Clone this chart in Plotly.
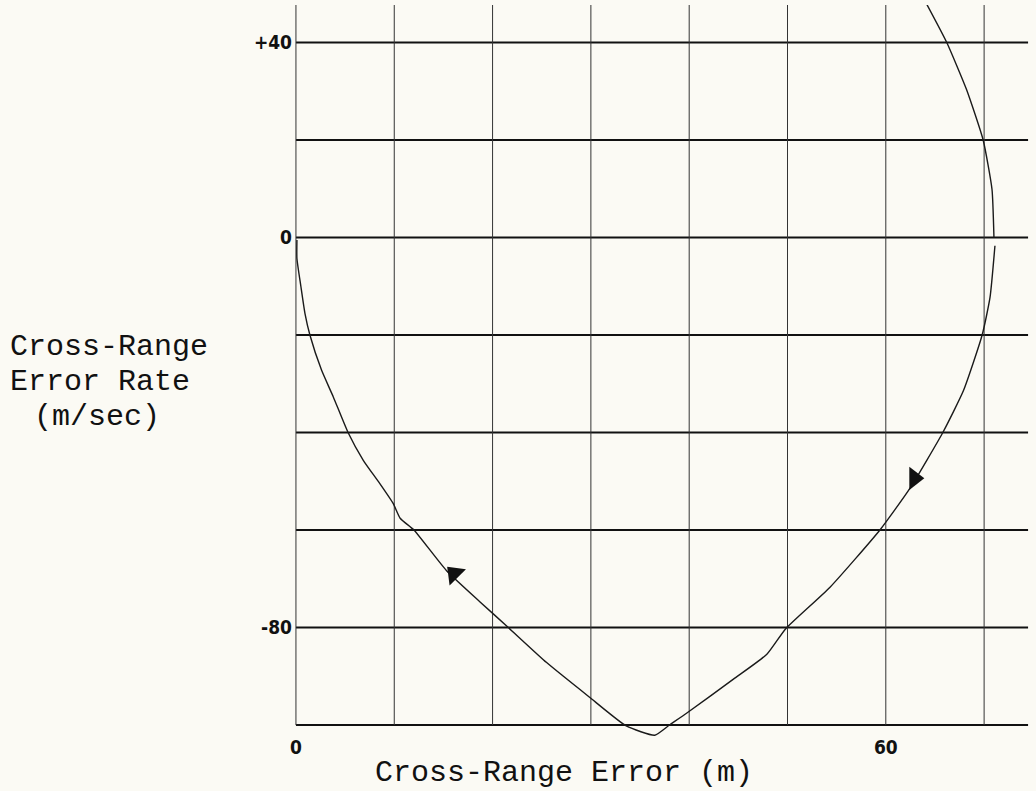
import plotly.graph_objects as go

# Phase-plane trajectory: cross-range error (m) vs. cross-range error rate (m/sec)
err_m = [64.1, 66.2, 68.2, 69.9, 70.8, 71.0, None,
         71.1, 70.6, 69.8, 67.9, 65.8, 62.5, 59.4, 54.3, 49.8, 47.9, 44.5,
         39.8, 38.0, 36.5, 33.6, 29.8, 25.5, 21.6, 18.7, 15.3, 12.0, 10.6,
         9.9, 8.5, 6.85, 5.3, 3.8, 2.6, 1.42, 0.92, 0.5, 0.1, 0.1]
rate_ms = [48.1, 40.0, 30.4, 20.0, 9.9, 0.0, None,
           -1.7, -12.3, -20.0, -31.4, -40.0, -51.3, -60.0, -71.8, -80.3, -85.5, -90.6,
           -97.5, -100.0, -102.1, -100.2, -94.2, -87.2, -80.0, -74.7, -68.3, -60.0, -57.6,
           -54.6, -50.4, -45.7, -40.0, -32.7, -27.2, -20.0, -15.6, -10.0, -4.3, -0.5]

# Direction-of-travel arrowheads along the trajectory
arrow_x = [62.9, 16.1]
arrow_y = [-49.4, -69.0]
arrow_angle = [90, -45]

# Grid and tick definitions
x_grid = [0, 10, 20, 30, 40, 50, 60, 70]
y_grid = [-100, -80, -60, -40, -20, 0, 20, 40]
x_tick_vals = [0, 60]
x_tick_text = ["0", "60"]
y_tick_vals = [-80, 0, 40]
y_tick_text = ["-80", "0", "+40"]

X_RANGE = [-0.3, 74.87]
Y_RANGE = [-102.67, 47.7]
BG = "#fbfaf4"
L, R, T, B = 293, 4, 5, 53
W, H = 1036, 791
PW, PH = W - L - R, H - T - B


def px_x(px):
    return (px - L) / PW


def px_y(py):
    return (H - B - py) / PH


fig = go.Figure()

fig.add_trace(go.Scatter(
    x=err_m, y=rate_ms, mode="lines",
    line=dict(color="#1a1a1a", width=1.4, shape="spline", smoothing=0.5),
    connectgaps=False, hoverinfo="skip", showlegend=False,
))

fig.add_trace(go.Scatter(
    x=arrow_x, y=arrow_y, mode="markers",
    marker=dict(symbol="triangle-up", size=20, color="#111111",
                angle=arrow_angle, line=dict(width=0)),
    hoverinfo="skip", showlegend=False,
))

# Horizontal rules (heavy) and vertical rules (light)
shapes = []
for v in y_grid:
    shapes.append(dict(type="line", xref="x", yref="y", x0=0, x1=X_RANGE[1] - 0.4,
                       y0=v, y1=v, line=dict(color="#111111", width=2), layer="below"))
for v in x_grid:
    shapes.append(dict(type="line", xref="x", yref="y", x0=v, x1=v,
                       y0=-100, y1=Y_RANGE[1], line=dict(color="#333333", width=1), layer="below"))

tick_font = dict(family="Liberation Sans Narrow, DejaVu Sans Condensed, sans-serif",
                 size=19, color="#111111", weight="bold")
mono = "Liberation Mono, Courier New, DejaVu Sans Mono, monospace"

# Y-axis title, one annotation per line
y_title_lines = ["Cross-Range", "Error Rate", "(m/sec)"]
y_title_left_px = [8, 8, 32]
y_title_mid_px = [347, 382, 417]

annotations = [
    dict(text="Cross-Range Error (m)", xref="paper", yref="paper",
         x=px_x(564), y=px_y(773), xanchor="center", yanchor="middle",
         showarrow=False, font=dict(family=mono, size=30, color="#111111")),
]
for txt, lx, my in zip(y_title_lines, y_title_left_px, y_title_mid_px):
    annotations.append(dict(text=txt, xref="paper", yref="paper",
                            x=px_x(lx), y=px_y(my), xanchor="left", yanchor="middle",
                            showarrow=False,
                            font=dict(family=mono, size=30, color="#111111")))

fig.update_layout(
    width=W, height=H,
    margin=dict(l=L, r=R, t=T, b=B, pad=0),
    paper_bgcolor=BG, plot_bgcolor=BG,
    shapes=shapes, annotations=annotations,
    xaxis=dict(range=X_RANGE, showgrid=False, zeroline=False, showline=False,
               tickmode="array", tickvals=x_tick_vals, ticktext=x_tick_text,
               ticks="", tickfont=tick_font, ticklabelstandoff=-4, fixedrange=True),
    yaxis=dict(range=Y_RANGE, showgrid=False, zeroline=False, showline=False,
               tickmode="array", tickvals=y_tick_vals, ticktext=y_tick_text,
               ticks="", tickfont=tick_font, fixedrange=True),
)

fig.write_html("out.html", config={"displayModeBar": False})
